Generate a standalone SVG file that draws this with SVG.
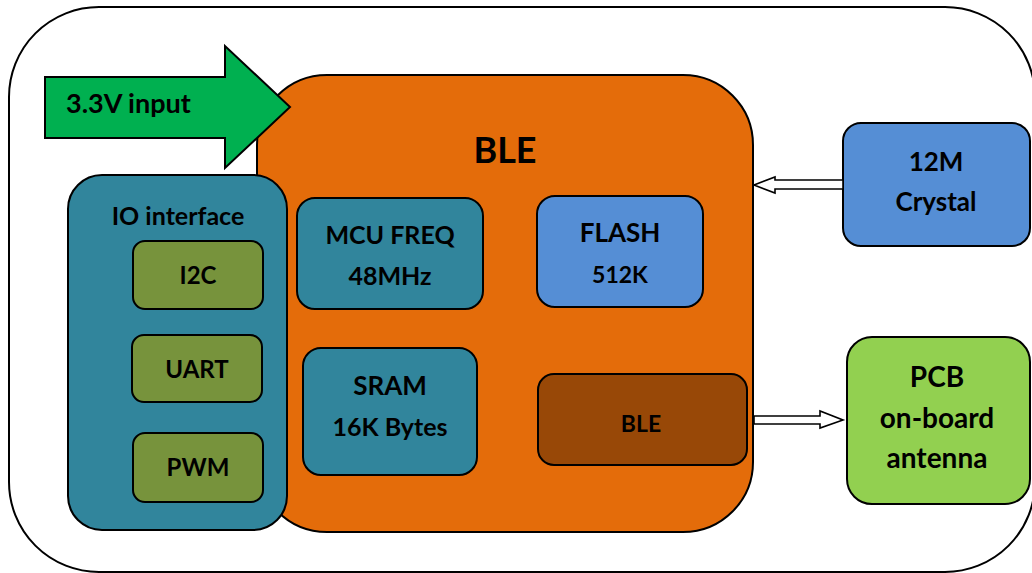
<svg xmlns="http://www.w3.org/2000/svg" width="1032" height="573" viewBox="0 0 1032 573">
<style>
.b{stroke:#000;stroke-width:2}
.t{font-family:Lato,"Open Sans","Liberation Sans",sans-serif;font-weight:bold;fill:#000;text-anchor:middle}
.c{fill:#fff;stroke:#000;stroke-width:1.6}
</style>
<rect x="9" y="7" width="1026" height="565" rx="90" fill="#fff" stroke="#000" stroke-width="2"/>
<g id="ble">
<rect class="b" x="257" y="75" width="496" height="457" rx="70" fill="#E46C0A"/>
<text class="t" x="505" y="163" font-size="36">BLE</text>
</g>
<g id="io">
<rect class="b" x="68" y="175" width="219" height="355" rx="34" fill="#31859C"/>
<text class="t" x="178" y="225" font-size="25">IO interface</text>
</g>
<g id="i2c">
<rect class="b" x="133" y="241" width="130" height="68" rx="12" fill="#77933C"/>
<text class="t" x="198" y="284" font-size="24">I2C</text>
</g>
<g id="uart">
<rect class="b" x="132" y="335" width="130" height="67" rx="12" fill="#77933C"/>
<text class="t" x="197" y="378" font-size="24">UART</text>
</g>
<g id="pwm">
<rect class="b" x="133" y="433" width="130" height="69" rx="12" fill="#77933C"/>
<text class="t" x="198" y="476" font-size="24">PWM</text>
</g>
<g id="input">
<polygon class="b" points="45,77 225,77 225,46 290,107 225,168 225,138 45,138" fill="#00B050"/>
<text class="t" x="66" y="113" font-size="27" text-anchor="start" style="text-anchor:start">3.3V input</text>
</g>
<g id="mcu">
<rect class="b" x="297" y="198" width="186" height="111" rx="18" fill="#31859C"/>
<text class="t" x="390" y="244" font-size="25">MCU FREQ</text>
<text class="t" x="390" y="285" font-size="25">48MHz</text>
</g>
<g id="flash">
<rect class="b" x="537" y="196" width="166" height="111" rx="18" fill="#558ED5"/>
<text class="t" x="620" y="242" font-size="26">FLASH</text>
<text class="t" x="620" y="283" font-size="23">512K</text>
</g>
<g id="sram">
<rect class="b" x="303" y="348" width="174" height="127" rx="18" fill="#31859C"/>
<text class="t" x="390" y="395" font-size="26">SRAM</text>
<text class="t" x="390" y="436" font-size="25">16K Bytes</text>
</g>
<g id="ble-rf">
<rect class="b" x="538" y="374" width="209" height="91" rx="16" fill="#984807"/>
<text class="t" x="641" y="432" font-size="23">BLE</text>
</g>
<g id="crystal">
<rect class="b" x="843" y="123" width="187" height="123" rx="18" fill="#558ED5"/>
<text class="t" x="936" y="171" font-size="26">12M</text>
<text class="t" x="936" y="211" font-size="26">Crystal</text>
</g>
<g id="antenna">
<rect class="b" x="847" y="337" width="183" height="167" rx="25" fill="#92D050"/>
<text class="t" x="937" y="387" font-size="28">PCB</text>
<text class="t" x="937" y="428" font-size="28">on-board</text>
<text class="t" x="937" y="468" font-size="28">antenna</text>
</g>
<g id="connectors">
<polygon class="c" points="843,180 775,180 775,177 754,185 775,193 775,189 843,189"/>
<polygon class="c" points="754,416 820,416 820,411 843,420 820,428 820,424 754,424"/>
</g>
</svg>
